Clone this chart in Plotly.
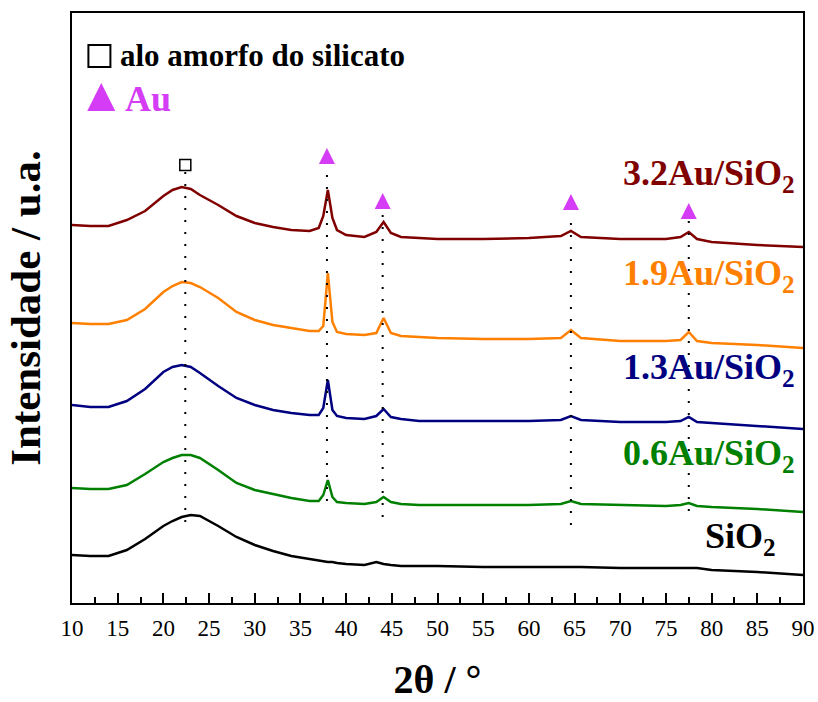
import plotly.graph_objects as go

# ---------------- data ----------------
two_theta = [10, 12, 14, 16, 18, 20, 21, 22, 23, 24, 26, 28, 30, 32, 34, 36,
             37.0, 37.5, 38.0, 38.5, 39.0, 40, 42, 43.3, 44.1, 44.9, 46, 48, 50,
             55, 60, 63.5, 64.6, 65.7, 70, 75, 76.6, 77.5, 78.4, 80, 85, 90]

au32 = [378, 377, 377, 383, 392, 407, 413, 416, 414, 408, 398, 387, 380, 376, 373, 372,
        375, 387, 413, 385, 373, 368, 366, 371, 381, 370, 366, 365, 364,
        364, 365, 367, 372, 366, 364, 364, 366, 371, 364, 361, 358, 356]
au19 = [280, 279, 279, 283, 294, 311, 317, 321, 320, 316, 305, 291, 283, 278, 275, 272,
        272, 277, 330, 281, 271, 269, 268, 270, 285, 270, 267, 266, 265,
        264, 264, 265, 273, 265, 262, 262, 263, 271, 262, 260, 258, 255]
au13 = [198, 196, 196, 202, 214, 231, 236, 238, 236, 230, 217, 205, 198, 193, 190, 188,
        188, 195, 223, 193, 187, 185, 184, 187, 194, 186, 184, 182, 182,
        182, 182, 183, 187, 183, 181, 181, 182, 186, 181, 180, 177, 174]
au06 = [115, 114, 114, 118, 129, 141, 145, 148, 148, 145, 133, 120, 113, 109, 105, 102,
        102, 108, 123, 106, 101, 100, 99, 101, 106, 101, 99, 98, 98,
        98, 98, 99, 102, 99, 98, 97, 98, 100, 97, 96, 94, 91]
sio2 = [48, 47, 47, 53, 64, 77, 82, 86, 88, 87, 77, 66, 58, 52, 47, 44,
        42, 42, 41, 41, 40, 39, 38, 41, 39, 38, 37, 37, 37,
        36, 36, 36, 36, 36, 35, 35, 35, 35, 35, 33, 31, 28]

series_names = ["3.2Au/SiO<sub>2</sub>", "1.9Au/SiO<sub>2</sub>", "1.3Au/SiO<sub>2</sub>",
                "0.6Au/SiO<sub>2</sub>", "SiO<sub>2</sub>"]
series_values = [au32, au19, au13, au06, sio2]
series_colors = ["#800000", "#FF8000", "#000080", "#008000", "#000000"]

# amorphous halo marker and Au reflections
halo_pos = [22.4]
halo_mark_y = [438]
halo_line = [(431, 76)]
au_peaks = [37.9, 44.0, 64.6, 77.5]
au_mark_y = [455, 410, 409, 400]          # apex of triangles
au_lines = [(428, 96), (388, 83), (380, 76), (382, 85)]

x_ticks = list(range(10, 95, 5))

FONT = "Times New Roman, Liberation Serif, Times, serif"
MAGENTA = "#D53CF5"

fig = go.Figure()

for vals, col in zip(series_values, series_colors):
    fig.add_trace(go.Scatter(x=two_theta, y=vals, mode="lines",
                             line=dict(color=col, width=2.5), showlegend=False,
                             hoverinfo="skip"))

# dotted guide lines
for p, (top, bot) in zip(halo_pos + au_peaks, halo_line + au_lines):
    fig.add_trace(go.Scatter(x=[p, p], y=[top, bot], mode="lines",
                             line=dict(color="black", width=2, dash="2px,10px"),
                             showlegend=False, hoverinfo="skip"))

fig.add_trace(go.Scatter(x=halo_pos, y=halo_mark_y, mode="markers",
                         marker=dict(symbol="square-open", size=11, color="black",
                                     line=dict(width=1.5, color="black")),
                         showlegend=False))
fig.add_trace(go.Scatter(x=au_peaks, y=au_mark_y, mode="markers",
                         marker=dict(symbol="arrow-up", size=16, color=MAGENTA,
                                     line=dict(width=0)),
                         showlegend=False))

# key symbols (top left)
fig.add_trace(go.Scatter(x=[13.0], y=[547], mode="markers",
                         marker=dict(symbol="square-open", size=22, color="black",
                                     line=dict(width=2, color="black")),
                         showlegend=False))
fig.add_trace(go.Scatter(x=[13.2], y=[520], mode="markers",
                         marker=dict(symbol="arrow-up", size=28, color=MAGENTA,
                                     line=dict(width=0)),
                         showlegend=False))

annotations = [
    dict(text="<b>alo amorfo do silicato</b>", x=0.0635, y=0.928, xref="paper", yref="paper",
         xanchor="left", yanchor="middle", showarrow=False,
         font=dict(family=FONT, size=31, color="black")),
    dict(text="<b>Au</b>", x=0.0695, y=0.855, xref="paper", yref="paper",
         xanchor="left", yanchor="middle", showarrow=False,
         font=dict(family=FONT, size=36, color=MAGENTA)),
]
label_y = [0.725, 0.555, 0.395, 0.25, 0.11]
label_x = [0.992, 0.992, 0.992, 0.992, 0.966]
for name, col, lx, ly in zip(series_names, series_colors, label_x, label_y):
    annotations.append(dict(text="<b>" + name + "</b>", x=lx, y=ly, xref="paper", yref="paper",
                            xanchor="right", yanchor="middle", showarrow=False,
                            font=dict(family=FONT, size=36, color=col)))

fig.update_layout(
    width=818, height=702,
    margin=dict(l=72, r=15, t=13, b=99, autoexpand=False),
    paper_bgcolor="white", plot_bgcolor="white",
    font=dict(family=FONT, color="black"),
    annotations=annotations,
    xaxis=dict(range=[10, 90], tickvals=x_ticks, ticktext=[str(t) for t in x_ticks],
               automargin=False,
               ticks="inside", ticklen=10, tickwidth=2, tickcolor="black",
               minor=dict(dtick=2.5, tick0=10, ticks="inside", ticklen=6, tickwidth=2,
                          tickcolor="black"),
               showline=True, linewidth=2, linecolor="black", mirror=True,
               showgrid=False, zeroline=False,
               tickfont=dict(family=FONT, size=23, color="black"),
               ticklabelstandoff=3,
               title=dict(text="<b>2θ / °</b>", font=dict(family=FONT, size=40, color="black"),
                          standoff=36)),
    yaxis=dict(range=[0, 590], showticklabels=False, ticks="", automargin=False,
               showline=True, linewidth=2, linecolor="black", mirror=True,
               showgrid=False, zeroline=False,
               title=dict(text="<b>Intensidade / u.a.</b>",
                          font=dict(family=FONT, size=43, color="black"), standoff=16)),
)

fig.write_html("out.html", config={"displayModeBar": False},
               post_script="document.body.style.margin='0';")
